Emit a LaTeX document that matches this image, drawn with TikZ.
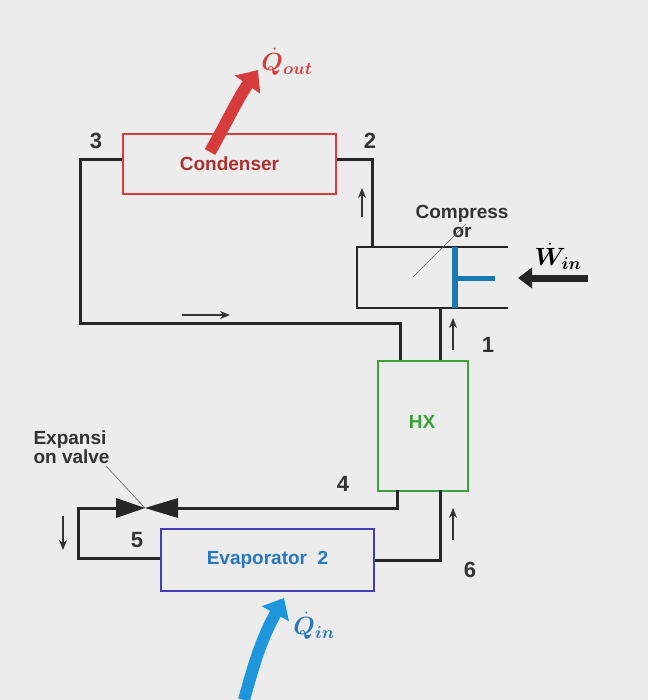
\documentclass[tikz,border=0pt]{standalone}
\usepackage{amsmath,bm}
\usepackage{fontspec}
\setmainfont{Liberation Sans}
\usetikzlibrary{arrows.meta}
\definecolor{cred}{RGB}{215,60,60}
\definecolor{cgreen}{RGB}{60,160,60}
\definecolor{cpurple}{RGB}{70,60,180}
\definecolor{cblue}{RGB}{30,150,220}
\definecolor{ctxt}{RGB}{40,120,190}
\definecolor{bg}{RGB}{236,236,236}
\begin{document}
\begin{tikzpicture}[x=1pt,y=-1pt,
  pipe/.style={line width=3pt,draw=black!85,line join=miter},
  box/.style={draw,line width=2pt,fill=none},
  lbl/.style={font=\bfseries\fontsize{22}{22}\selectfont,text=black!80},
  flow/.style={-{Stealth[length=10pt,width=8pt]},line width=1.6pt,black!80},
  heat/.style={line width=12pt,-{Triangle[length=18pt,width=30pt]}}]
\fill[bg] (0,0) rectangle (648,700);
\useasboundingbox (0,0) rectangle (648,700);
% boxes
\node[box,draw=cred,minimum width=213pt,minimum height=60pt,anchor=north west,font=\bfseries\fontsize{19}{19}\selectfont,text=cred!80!black] (cond) at (122,133) {Condenser};
\node[box,draw=cgreen,minimum width=90pt,minimum height=130pt,anchor=north west] (hx) at (377,360) {};
\node[font=\bfseries\fontsize{19}{19}\selectfont,text=cgreen] (hxl) at (422,422) {HX};
\node[box,draw=cpurple,minimum width=213pt,minimum height=62pt,anchor=north west,font=\bfseries\fontsize{19}{19}\selectfont,text=ctxt] (evap) at (160,528) {Evaporator\ \ 2};
% compressor
\coordinate (ct1) at (357,247); \coordinate (ct2) at (508,247);
\coordinate (cb1) at (357,308); \coordinate (cb2) at (508,308);
\draw[line width=2.5pt,black!85] (ct2) -- (ct1) -- (cb1) -- (cb2);
\coordinate (pa) at (455,247); \coordinate (pb) at (455,308);
\coordinate (pc) at (455,278); \coordinate (pd) at (495,278);
\draw[line width=6pt,cblue!80!black] (pa) -- (pb);
\draw[line width=5pt,cblue!80!black] (pc) -- (pd);
\node[font=\bfseries\fontsize{19}{19}\selectfont,text=black!80,align=center] (compl) at (462,221) {Compress\\or};
\coordinate (cl1) at (413,277); \coordinate (cl2) at (466,224);
\draw[black!60,line width=0.6pt] (cl1) -- (cl2);
\coordinate (w1) at (588,278); \coordinate (w2) at (518,278);
\draw[line width=7pt,black!85,-{Triangle[length=14pt,width=20pt]}] (w1) -- (w2);
\node[font=\fontsize{24}{24}\selectfont] (wl) at (558,256) {$\bm{\dot W_{in}}$};
% pipes
\draw[pipe] (cond.west |- 0,160) -| (80,323) -| (400,360);
\draw[pipe] (cond.east |- 0,160) -| (372,247);
\draw[pipe] (440,308) -- (440,360);
\draw[pipe] (397,490) |- (178,508);
\draw[pipe] (118,508) -| (78,558) -- (evap.west |- 0,558);
\draw[pipe] (evap.east |- 0,560) -| (440,490);
% valve
\coordinate (v) at (145,508);
\fill[black!85] (v) -- (116,498) -- (116,518) -- cycle;
\fill[black!85] (v) -- (178,498) -- (178,518) -- cycle;
\node[font=\bfseries\fontsize{19}{19}\selectfont,text=black!80,align=left,anchor=west] (vl) at (30,447) {Expansi\\on valve};
\coordinate (vl1) at (106,466);
\draw[black!60,line width=0.6pt] (vl1) -- (v);
% flow arrows
\coordinate (a1) at (362,217); \coordinate (a2) at (362,188); \draw[flow] (a1) -- (a2);
\coordinate (b1) at (182,315); \coordinate (b2) at (230,315); \draw[flow] (b1) -- (b2);
\coordinate (c1) at (453,350); \coordinate (c2) at (453,318); \draw[flow] (c1) -- (c2);
\coordinate (d1) at (453,540); \coordinate (d2) at (453,508); \draw[flow] (d1) -- (d2);
\coordinate (e1) at (63,516); \coordinate (e2) at (63,550); \draw[flow] (e1) -- (e2);
% numbers
\node[lbl] (n3) at (96,141) {3};
\node[lbl] (n2) at (370,141) {2};
\node[lbl] (n1) at (488,345) {1};
\node[lbl] (n4) at (343,484) {4};
\node[lbl] (n5) at (137,540) {5};
\node[lbl] (n6) at (470,570) {6};
% heat arrows
\coordinate (q1) at (210,152); \coordinate (q2) at (258,70);
\draw[heat,cred] (q1) .. controls (228,120) and (238,98) .. (q2);
\node[font=\fontsize{24}{24}\selectfont,text=cred] (qo) at (287,62) {$\bm{\dot Q_{out}}$};
\coordinate (q3) at (244,700); \coordinate (q4) at (284,598);
\draw[heat,cblue] (q3) .. controls (255,660) and (262,638) .. (q4);
\node[font=\fontsize{24}{24}\selectfont,text=ctxt] (qi) at (314,626) {$\bm{\dot Q_{in}}$};
\end{tikzpicture}
\end{document}
